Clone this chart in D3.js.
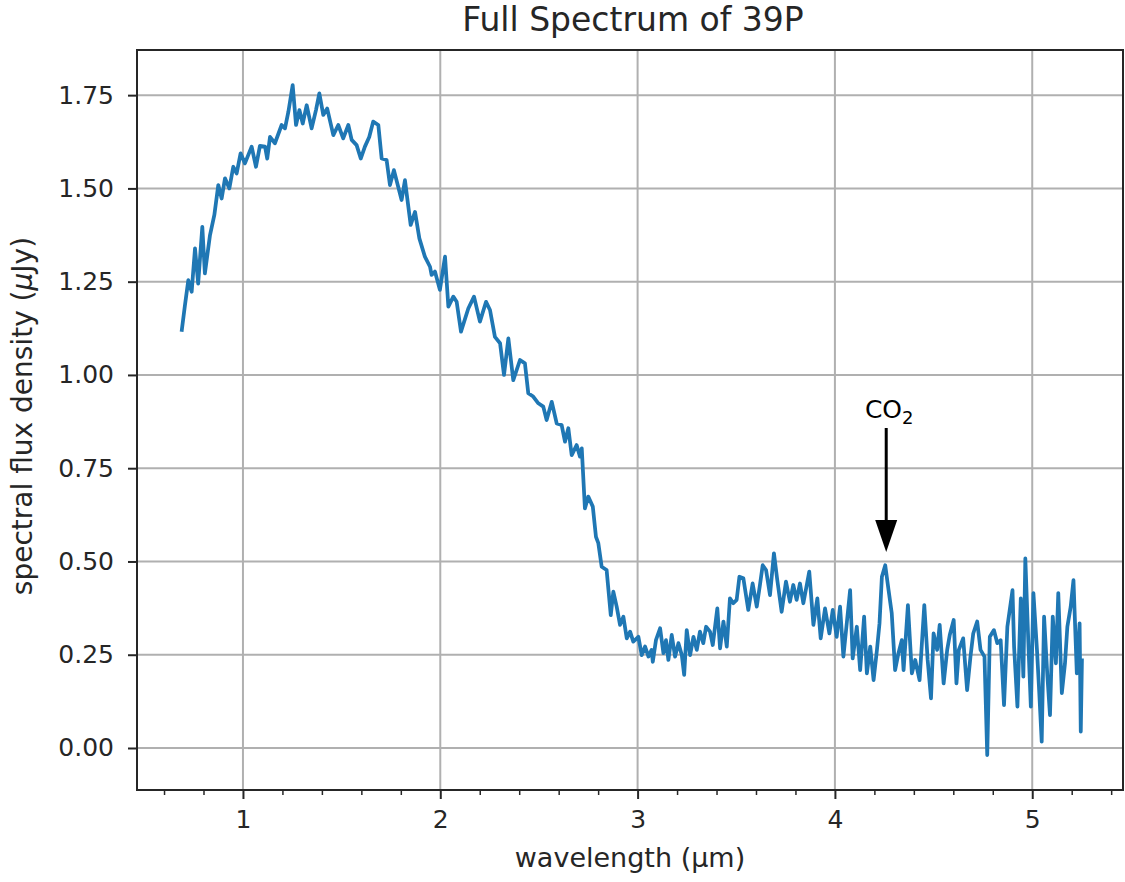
<!DOCTYPE html>
<html>
    <head>
        <script src="https://cdn.jsdelivr.net/npm/d3@7"></script>
        <style>
            body { margin: 0; background: #fff; }
            .chart text { font-family: "DejaVu Sans", sans-serif; fill: #262626; }
            .grid line { stroke: #b0b0b0; stroke-width: 2; }
            .axis path, .axis line { stroke: #262626; }
        </style>
    </head>
    <body>
        <svg class="chart" width="1125" height="882"></svg>
        <script>
            // wavelength (um) and flux (uJy)
            var wavelength = [
                0.689,0.706,0.723,0.740,0.757,0.773,0.794,0.807,0.833,0.855,0.875,0.892,0.909,0.931,0.951,0.968,0.988,
                1.010,1.044,1.066,1.086,1.112,1.123,1.137,1.162,1.196,1.213,1.230,1.252,1.269,1.286,1.303,1.323,1.348,
                1.370,1.387,1.407,1.427,1.458,1.483,1.508,1.534,1.551,1.576,1.597,1.618,1.640,1.660,1.686,
                1.703,1.728,1.745,1.765,1.787,1.804,1.821,1.850,1.872,1.894,1.922,1.948,1.956,1.973,1.998,
                2.024,2.041,2.066,2.083,2.105,2.142,2.171,2.201,2.232,2.252,2.277,2.303,2.323,2.345,2.370,2.404,
                2.429,2.446,2.471,2.497,2.522,2.539,2.565,2.590,2.615,2.632,2.649,2.666,2.691,2.708,2.717,2.733,
                2.750,2.773,2.789,2.801,2.818,2.843,
                2.864,2.877,2.894,2.911,2.928,2.945,2.962,2.978,3.004,3.021,3.038,3.055,3.071,3.077,3.093,3.114,
                3.131,3.144,3.156,3.173,3.190,3.207,3.224,3.236,3.249,3.266,3.283,3.300,3.316,3.333,3.347,3.367,
                3.381,3.404,3.418,3.435,3.452,3.468,3.485,3.502,3.516,3.536,3.561,3.583,3.604,3.620,3.634,3.651,
                3.671,3.691,3.708,3.730,3.752,3.772,3.789,3.806,3.823,3.840,3.870,3.891,3.911,3.928,3.950,3.972,
                3.989,4.009,4.026,
                4.043,4.060,4.077,4.090,4.111,4.128,4.148,4.162,4.179,4.196,4.213,4.226,4.238,4.255,4.272,4.288,
                4.305,4.322,4.339,4.348,4.370,4.390,4.407,4.429,4.453,4.470,4.487,4.500,4.518,4.531,4.551,4.569,
                4.582,4.602,4.616,4.628,4.650,4.670,4.687,4.701,4.721,4.738,4.758,4.772,4.785,4.806,4.823,4.840,
                4.857,4.874,4.900,4.908,4.925,4.942,4.955,4.965,4.981,4.993,5.006,5.024,5.035,5.048,5.060,5.077,
                5.090,5.104,5.120,5.132,5.150,5.166,5.178,5.195,5.209,5.226,5.240,5.246,5.252
            ];
            var flux = [
                1.116,1.187,1.254,1.223,1.339,1.245,1.397,1.272,1.375,1.429,1.509,1.473,1.527,1.500,1.558,1.540,1.594,
                1.567,1.612,1.558,1.614,1.612,1.580,1.638,1.621,1.670,1.661,1.705,1.777,1.670,1.710,1.674,1.723,1.661,
                1.710,1.755,1.697,1.714,1.643,1.670,1.634,1.670,1.630,1.616,1.580,1.612,1.638,1.679,1.670,
                1.580,1.576,1.509,1.549,1.504,1.469,1.522,1.402,1.437,1.366,1.317,1.290,1.268,1.277,1.228,
                1.317,1.183,1.210,1.196,1.116,1.178,1.210,1.143,1.196,1.174,1.102,1.085,1.000,1.098,0.986,1.040,
                1.031,0.951,0.942,0.924,0.915,0.879,0.928,0.870,0.866,0.821,0.857,0.785,0.812,0.781,0.803,0.642,
                0.674,0.647,0.566,0.549,0.486,0.477,
                0.356,0.419,0.379,0.330,0.352,0.294,0.312,0.285,0.298,0.249,0.272,0.245,0.263,0.231,0.289,0.321,
                0.254,0.289,0.236,0.303,0.245,0.281,0.249,0.196,0.316,0.249,0.298,0.263,0.312,0.281,0.325,0.312,
                0.276,0.374,0.267,0.339,0.272,0.401,0.388,0.397,0.459,0.455,0.370,0.441,0.379,0.437,0.490,0.477,
                0.410,0.522,0.450,0.365,0.446,0.392,0.437,0.397,0.441,0.388,0.473,0.330,0.401,0.294,0.374,0.307,
                0.370,0.298,0.379,
                0.245,0.334,0.423,0.240,0.325,0.209,0.352,0.200,0.272,0.182,0.263,0.334,0.459,0.490,0.423,0.361,
                0.209,0.254,0.289,0.209,0.383,0.200,0.236,0.182,0.383,0.236,0.133,0.307,0.263,0.330,0.173,0.263,
                0.303,0.343,0.173,0.263,0.294,0.155,0.245,0.307,0.339,0.263,0.245,-0.019,0.298,0.316,0.281,0.289,
                0.115,0.325,0.423,0.272,0.111,0.401,0.191,0.508,0.272,0.111,0.415,0.263,0.155,0.017,0.352,0.191,
                0.088,0.352,0.227,0.415,0.147,0.227,0.325,0.379,0.450,0.200,0.334,0.044,0.240
            ];
            var xTicks = [1, 2, 3, 4, 5];
            var xMinorTicks = [0.6, 0.8, 1.2, 1.4, 1.6, 1.8, 2.2, 2.4, 2.6, 2.8, 3.2, 3.4, 3.6, 3.8,
                               4.2, 4.4, 4.6, 4.8, 5.2, 5.4];
            var yTicks = [0, 0.25, 0.5, 0.75, 1.0, 1.25, 1.5, 1.75];
            var co2 = {x: 4.26, y: 0.52, text: "CO", sub: "2"};

            var margin = {top: 50, right: 2, bottom: 92, left: 137};
            var svg = d3.select("svg");
            var width = +svg.attr("width") - margin.left - margin.right;
            var height = +svg.attr("height") - margin.top - margin.bottom;

            var x = d3.scaleLinear().domain([0.463, 5.46]).range([0, width]);
            var y = d3.scaleLinear().domain([-0.1126, 1.871]).range([height, 0]);

            var g = svg.append("g").attr("transform", "translate(" + margin.left + "," + margin.top + ")");

            // grid
            g.append("g").attr("class", "grid").selectAll("line").data(xTicks)
                .enter().append("line")
                .attr("x1", function(d){ return x(d); }).attr("x2", function(d){ return x(d); })
                .attr("y1", 0).attr("y2", height);
            g.append("g").attr("class", "grid").selectAll("line").data(yTicks)
                .enter().append("line")
                .attr("y1", function(d){ return y(d); }).attr("y2", function(d){ return y(d); })
                .attr("x1", 0).attr("x2", width);

            // spectrum
            var pts = wavelength.map(function(w, i){ return [w, flux[i]]; });
            var line = d3.line().x(function(d){ return x(d[0]); }).y(function(d){ return y(d[1]); });
            g.append("path").datum(pts)
                .attr("d", line)
                .attr("fill", "none")
                .attr("stroke", "#1f77b4")
                .attr("stroke-width", 3.75)
                .attr("stroke-linejoin", "round");

            // axes
            var xAxis = d3.axisBottom(x).tickValues(xTicks).tickFormat(d3.format("d"))
                          .tickSize(9).tickPadding(9).tickSizeOuter(0);
            var gx = g.append("g").attr("class", "axis").attr("transform", "translate(0," + height + ")").call(xAxis);
            gx.select(".domain").remove();
            gx.selectAll("line").attr("stroke-width", 2);
            gx.selectAll("text").style("font-size", "25px").attr("dy", "0.78em");

            var xMinor = d3.axisBottom(x).tickValues(xMinorTicks).tickFormat("").tickSize(5).tickSizeOuter(0);
            var gxm = g.append("g").attr("class", "axis").attr("transform", "translate(0," + height + ")").call(xMinor);
            gxm.select(".domain").remove();
            gxm.selectAll("line").attr("stroke-width", 1.5);

            var yAxis = d3.axisLeft(y).tickValues(yTicks).tickFormat(d3.format(".2f"))
                          .tickSize(9).tickPadding(14).tickSizeOuter(0);
            var gy = g.append("g").attr("class", "axis").call(yAxis);
            gy.select(".domain").remove();
            gy.selectAll("line").attr("stroke-width", 2);
            gy.selectAll("text").style("font-size", "25px");

            // frame
            g.append("rect").attr("width", width).attr("height", height)
                .attr("fill", "none").attr("stroke", "#262626").attr("stroke-width", 2);

            // CO2 annotation with arrow
            var tipX = x(co2.x), tipY = y(co2.y) - 2;
            var head = 32, halfW = 11;
            g.append("line")
                .attr("x1", tipX).attr("x2", tipX)
                .attr("y1", tipY - 124).attr("y2", tipY - head + 2)
                .attr("stroke", "#000").attr("stroke-width", 3);
            g.append("path")
                .attr("d", "M" + tipX + "," + tipY + "L" + (tipX - halfW) + "," + (tipY - head) +
                           "L" + (tipX + halfW) + "," + (tipY - head) + "Z")
                .attr("fill", "#000");
            var lab = g.append("text")
                .attr("x", tipX + 3).attr("y", tipY - 134)
                .attr("text-anchor", "middle")
                .style("font-size", "25px").style("fill", "#000");
            lab.append("tspan").text(co2.text);
            lab.append("tspan").attr("dy", 6).style("font-size", "18px").text(co2.sub);

            // labels
            svg.append("text")
                .attr("x", margin.left + width / 2 + 3).attr("y", 31)
                .attr("text-anchor", "middle").style("font-size", "33px")
                .text("Full Spectrum of 39P");
            svg.append("text")
                .attr("x", margin.left + width / 2).attr("y", 867)
                .attr("text-anchor", "middle").style("font-size", "27px")
                .text("wavelength (\u03bcm)");
            var yl = svg.append("text")
                .attr("transform", "translate(32," + (margin.top + height / 2 - 4) + ") rotate(-90)")
                .attr("text-anchor", "middle").style("font-size", "28px");
            yl.append("tspan").text("spectral flux density (");
            yl.append("tspan").style("font-style", "italic").text("\u03bc");
            yl.append("tspan").text("Jy)");
        </script>
    </body>
</html>
